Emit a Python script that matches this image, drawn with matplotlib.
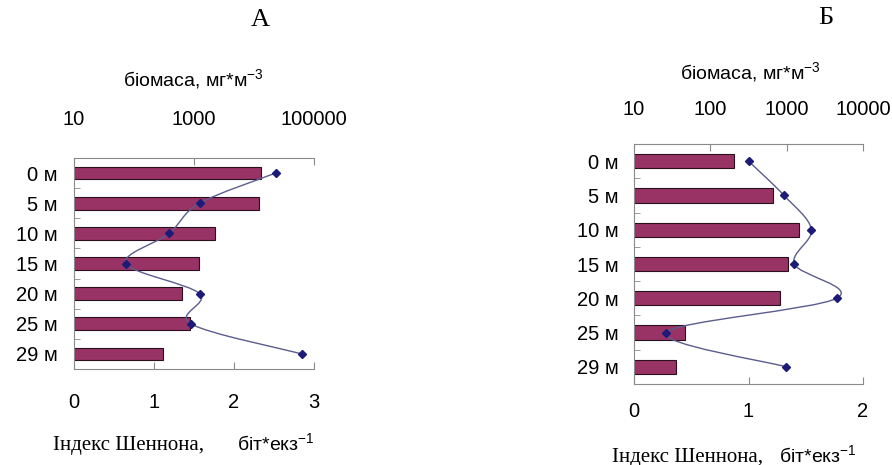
import matplotlib.pyplot as plt
from matplotlib.path import Path
from matplotlib.patches import PathPatch
from matplotlib.ticker import FixedLocator, NullLocator
import numpy as np

plt.rcParams['font.family'] = 'Liberation Sans'
plt.rcParams['mathtext.fontset'] = 'custom'
plt.rcParams['mathtext.rm'] = 'Liberation Sans'
plt.rcParams['mathtext.it'] = 'Liberation Sans'

# Data
depths = ['0 м', '5 м', '10 м', '15 м', '20 м', '25 м', '29 м']

biomass_a = [13000, 12000, 2200, 1230, 640, 870, 300]
shannon_a = [2.52, 1.57, 1.19, 0.65, 1.57, 1.46, 2.85]

biomass_b = [204, 660, 1450, 1040, 815, 47, 35]
shannon_b = [1.00, 1.31, 1.55, 1.40, 1.77, 0.28, 1.33]

log_ticks_a = [10, 1000, 100000]
log_ticks_b = [10, 100, 1000, 10000]
sh_ticks_a = [0, 1, 2, 3]
sh_ticks_b = [0, 1, 2]

W, H = 892, 465
BAR = '#993366'
LINE = '#5c5c8e'
MARK = '#1c1c78'
SPINE = '#8a8a8a'
TICK_FS = 14.5


def fx(px):
    return px / W


def fy(py):
    return 1 - py / H


def smooth_path(xs, ys):
    # Catmull-Rom style bezier through the points (like a smoothed Excel line)
    pts = np.column_stack([xs, ys]).astype(float)
    n = len(pts)
    verts = [pts[0]]
    codes = [Path.MOVETO]
    for i in range(n - 1):
        p0 = pts[i - 1] if i > 0 else pts[i]
        p1 = pts[i]
        p2 = pts[i + 1]
        p3 = pts[i + 2] if i + 2 < n else pts[i + 1]
        c1 = p1 + (p2 - p0) / 6
        c2 = p2 - (p3 - p1) / 6
        verts += [c1, c2, p2]
        codes += [Path.CURVE4] * 3
    return Path(verts, codes)


def panel(box, biomass, shannon, log_lim, log_ticks, sh_lim, sh_ticks, pads):
    left, top, right, bottom = box
    ax = fig.add_axes([fx(left), fy(bottom), fx(right - left), (bottom - top) / H])
    ax2 = ax.twiny()

    # biomass bars on a log axis (top)
    y = np.arange(len(depths))
    lo = log_lim[0]
    ax.barh(y, [b - lo for b in biomass], left=lo, height=0.42,
            color=BAR, edgecolor='#2a0f1c', linewidth=0.8)
    ax.set_xscale('log')
    ax.set_xlim(*log_lim)
    ax.set_ylim(len(depths) - 0.5, -0.5)
    ax.xaxis.set_major_locator(FixedLocator(log_ticks))
    ax.xaxis.set_minor_locator(NullLocator())
    ax.set_xticklabels([str(t) for t in log_ticks])
    ax.xaxis.set_ticks_position('top')
    ax.xaxis.set_label_position('top')
    ax.tick_params(axis='x', which='major', direction='in', length=5,
                   color=SPINE, labelsize=TICK_FS, pad=pads[0],
                   labeltop=True, labelbottom=False)
    ax.set_yticks(y)
    ax.set_yticklabels(depths)
    ax.yaxis.set_minor_locator(FixedLocator(y[:-1] + 0.5))
    ax.tick_params(axis='y', which='major', length=0, labelsize=TICK_FS, pad=pads[2])
    ax.tick_params(axis='y', which='minor', direction='in', length=4, color=SPINE)
    for s in ['right', 'bottom']:
        ax.spines[s].set_visible(False)
    for s in ['left', 'top']:
        ax.spines[s].set_color(SPINE)
        ax.spines[s].set_linewidth(0.8)

    # Shannon index on a linear axis (bottom)
    ax2.set_xlim(*sh_lim)
    ax2.xaxis.set_ticks_position('bottom')
    ax2.xaxis.set_label_position('bottom')
    ax2.set_xticks(sh_ticks)
    ax2.set_xticklabels([str(t) for t in sh_ticks])
    ax2.tick_params(axis='x', direction='in', length=5, color=SPINE,
                    labelsize=TICK_FS, pad=pads[1],
                    labelbottom=True, labeltop=False)
    for s in ['right', 'top', 'left']:
        ax2.spines[s].set_visible(False)
    ax2.spines['bottom'].set_color(SPINE)
    ax2.spines['bottom'].set_linewidth(0.8)
    ax2.add_patch(PathPatch(smooth_path(shannon, y), facecolor='none',
                            edgecolor=LINE, linewidth=1.0))
    ax2.plot(shannon, y, linestyle='none', marker='D', markersize=4.5,
             color=MARK)
    return ax, ax2


fig = plt.figure(figsize=(W / 100, H / 100), dpi=100)

panel((74, 158, 314, 369), biomass_a, shannon_a, (10, 100000), log_ticks_a,
      (0, 3), sh_ticks_a, (21, 17, 12))
panel((634, 144, 863, 384), biomass_b, shannon_b, (10, 10000), log_ticks_b,
      (0, 2), sh_ticks_b, (18, 13, 11))

# Panel letters
fig.text(fx(260), fy(20), 'А', family='Liberation Serif', fontsize=19,
         ha='center', va='center')
fig.text(fx(826), fy(18), 'Б', family='Liberation Serif', fontsize=19,
         ha='center', va='center')

# Axis titles
fig.text(fx(193), fy(79), 'біомаса, мг*м$^{-3}$', fontsize=14,
         ha='center', va='center')
fig.text(fx(750), fy(72), 'біомаса, мг*м$^{-3}$', fontsize=14,
         ha='center', va='center')

fig.text(fx(53), fy(445), 'Індекс Шеннона,', family='Liberation Serif',
         fontsize=15, ha='left', va='center')
fig.text(fx(237), fy(443), 'біт*екз$^{-1}$', fontsize=14, ha='left', va='center')
fig.text(fx(612), fy(457), 'Індекс Шеннона,', family='Liberation Serif',
         fontsize=15, ha='left', va='center')
fig.text(fx(779), fy(455), 'біт*екз$^{-1}$', fontsize=14, ha='left', va='center')

fig.savefig('out.png', dpi=100)
